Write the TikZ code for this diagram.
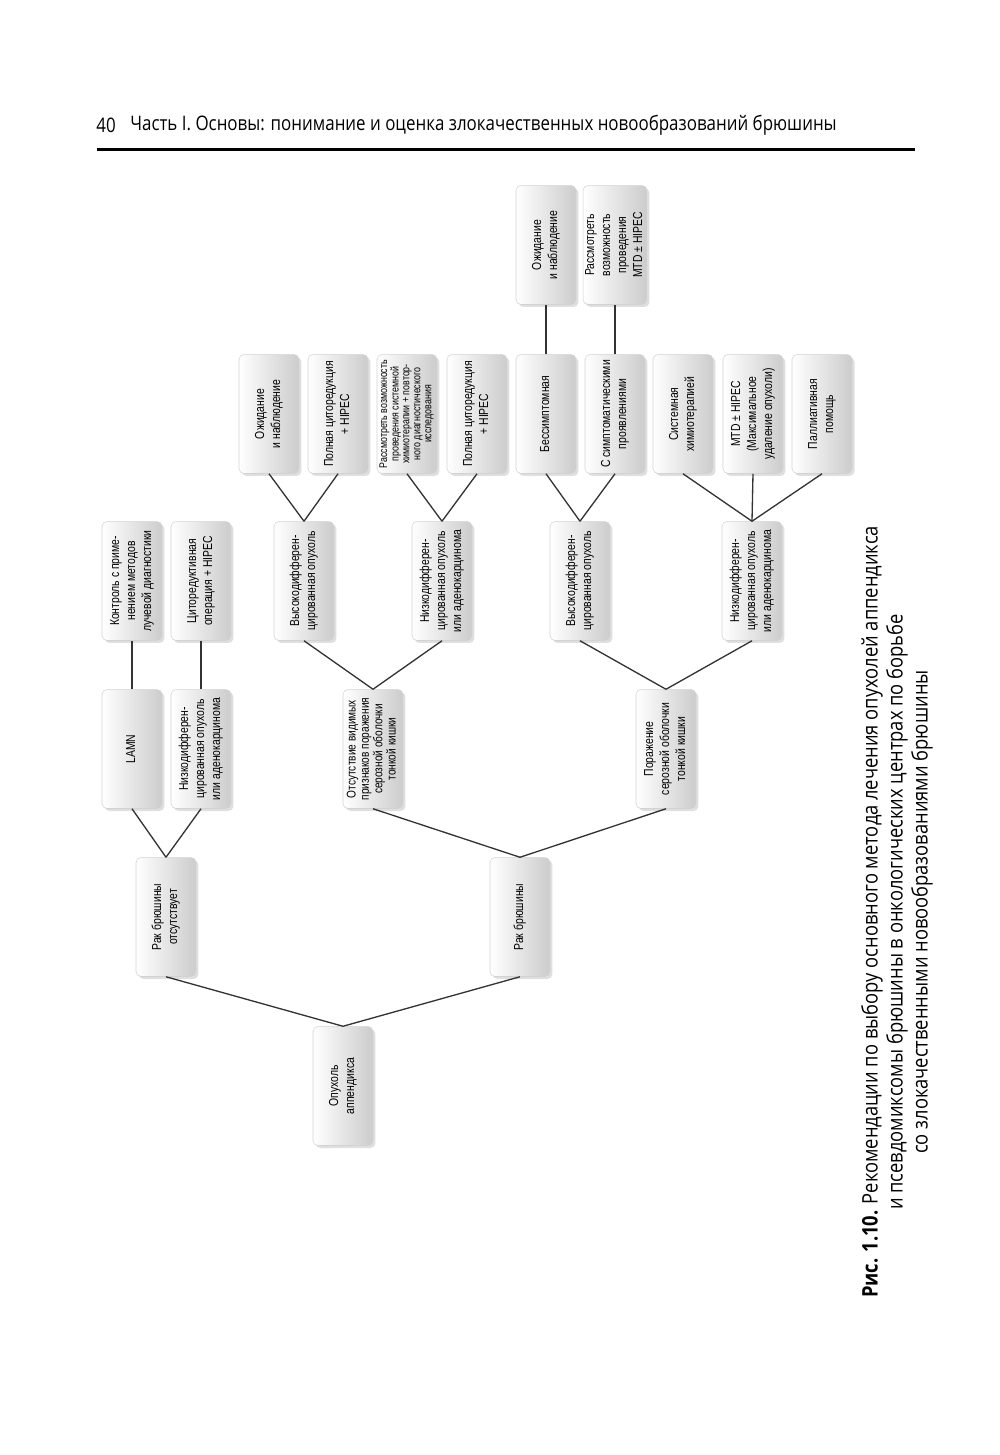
\documentclass[tikz,border=0pt]{standalone}
\usepackage{fontspec}
\setmainfont{Liberation Sans}
\newfontfamily\boxfont[FakeStretch=0.8]{Liberation Sans}
\newfontfamily\headfont[FakeStretch=0.845]{Open Sans}
\newfontfamily\capfont[FakeStretch=0.855]{Open Sans}
\usetikzlibrary{shadows}
\newcommand{\hoch}[1]{\rotatebox{90}{\begin{tabular}{@{}c@{}}#1\end{tabular}}}

\begin{document}
\begin{tikzpicture}[x=0.02cm, y=-0.02cm,
	box/.style={rectangle, rounded corners=0.1cm, draw=gray!35, line width=0.3pt,
		left color=white, middle color=white, right color=gray!40,
		minimum width=1.2cm, minimum height=2.38cm, inner sep=0pt,
		font=\boxfont\fontsize{7.4pt}{9.1pt}\selectfont,
		drop shadow={opacity=0.25, shadow xshift=0.05cm, shadow yshift=-0.05cm}},
	kleinbox/.style={box, font=\boxfont\fontsize{6.3pt}{6.2pt}\selectfont},
	kante/.style={draw=black!80, line width=0.75pt}]
	\fill[white] (0,0) rectangle (1000,1455);
	\useasboundingbox (0,0) rectangle (1000,1455);

	% Kopfzeile
	\node (seite) at (106,125) [font=\headfont\fontsize{11.4pt}{13pt}\selectfont] {40};
	\node (kopf) at (130,125) [anchor=west, inner sep=0pt, font=\headfont\fontsize{11.4pt}{13pt}\selectfont] {Часть I. Основы: понимание и оценка злокачественных новообразований брюшины};
	\draw[line width=1.7pt] (97,149) -- (915,149);

	% Узлы
	\node (tumor) at (343,1086) [box] {\hoch{Опухоль\\аппендикса}};
	\node (noPC) at (166,917) [box] {\hoch{Рак брюшины\\отсутствует}};
	\node (PC) at (520,917) [box] {\hoch{Рак брюшины}};
	\node (lamn) at (132,749) [box] {\hoch{LAMN}};
	\node (lowA) at (201,749) [box] {\hoch{Низкодифферен-\\цированная опухоль\\или аденокарцинома}};
	\node (noSer) at (373,749) [box, font=\boxfont\fontsize{7.2pt}{7.6pt}\selectfont] {\hoch{Отсутствие видимых\\признаков поражения\\серозной оболочки\\тонкой кишки}};
	\node (ser) at (666,749) [box] {\hoch{Поражение\\серозной оболочки\\тонкой кишки}};
	\node (watchA) at (132,581) [box] {\hoch{Контроль с приме-\\нением методов\\лучевой диагностики}};
	\node (crsA) at (201,581) [box] {\hoch{Циторедуктивная\\операция + HIPEC}};
	\node (highB) at (304,581) [box] {\hoch{Высокодифферен-\\цированная опухоль}};
	\node (lowB) at (442,581) [box] {\hoch{Низкодифферен-\\цированная опухоль\\или аденокарцинома}};
	\node (highC) at (580,581) [box] {\hoch{Высокодифферен-\\цированная опухоль}};
	\node (lowC) at (752,581) [box] {\hoch{Низкодифферен-\\цированная опухоль\\или аденокарцинома}};
	\node (waitB) at (269,414) [box] {\hoch{Ожидание\\и наблюдение}};
	\node (crsB) at (338,414) [box] {\hoch{Полная циторедукция\\+ HIPEC}};
	\node (chemoB) at (407,414) [kleinbox] {\hoch{Рассмотреть возможность\\проведения системной\\химиотерапии + повтор-\\ного диагностического\\исследования}};
	\node (crsB2) at (477,414) [box] {\hoch{Полная циторедукция\\+ HIPEC}};
	\node (asym) at (546,414) [box] {\hoch{Бессимптомная}};
	\node (sym) at (615,414) [box] {\hoch{С симптоматическими\\проявлениями}};
	\node (chemoC) at (683,414) [box] {\hoch{Системная\\химиотерапией}};
	\node (mtdC) at (753,414) [box] {\hoch{MTD ± HIPEC\\(Максимальное\\удаление опухоли)}};
	\node (pall) at (822,414) [box] {\hoch{Паллиативная\\помощь}};
	\node (waitC) at (546,245) [box] {\hoch{Ожидание\\и наблюдение}};
	\node (mtdD) at (615,245) [box] {\hoch{Рассмотреть\\возможность\\проведения\\MTD ± HIPEC}};

	% Связи
	\draw[kante] (tumor.north) to (noPC.south);
	\draw[kante] (tumor.north) to (PC.south);
	\draw[kante] (noPC.north) to (lamn.south);
	\draw[kante] (noPC.north) to (lowA.south);
	\draw[kante] (lamn.north) to (watchA.south);
	\draw[kante] (lowA.north) to (crsA.south);
	\draw[kante] (PC.north) to (noSer.south);
	\draw[kante] (PC.north) to (ser.south);
	\draw[kante] (noSer.north) to (highB.south);
	\draw[kante] (noSer.north) to (lowB.south);
	\draw[kante] (highB.north) to (waitB.south);
	\draw[kante] (highB.north) to (crsB.south);
	\draw[kante] (lowB.north) to (chemoB.south);
	\draw[kante] (lowB.north) to (crsB2.south);
	\draw[kante] (ser.north) to (highC.south);
	\draw[kante] (ser.north) to (lowC.south);
	\draw[kante] (highC.north) to (asym.south);
	\draw[kante] (highC.north) to (sym.south);
	\draw[kante] (lowC.north) to (chemoC.south);
	\draw[kante] (lowC.north) to (mtdC.south);
	\draw[kante] (lowC.north) to (pall.south);
	\draw[kante] (asym.north) to (waitC.south);
	\draw[kante] (sym.north) to (mtdD.south);

	% Подпись
	\node (caption) at (897,912) [rotate=90, align=center, font=\capfont\fontsize{12.2pt}{14.2pt}\selectfont] {\textbf{Рис. 1.10.} Рекомендации по выбору основного метода лечения опухолей аппендикса\\и псевдомиксомы брюшины в онкологических центрах по борьбе\\со злокачественными новообразованиями брюшины};
\end{tikzpicture}
\end{document}
